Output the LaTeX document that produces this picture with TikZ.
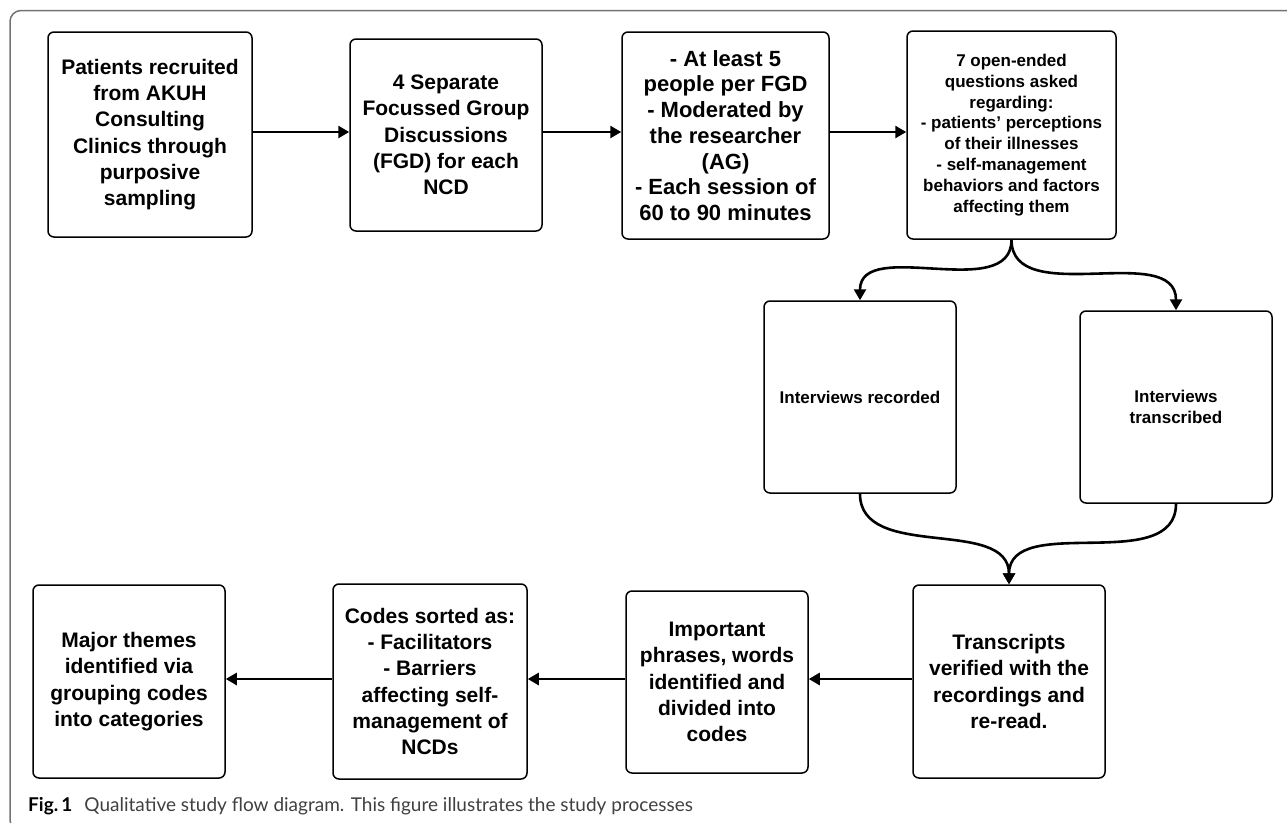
\documentclass[tikz,border=0pt]{standalone}
\usepackage{fontspec}
\setmainfont{Liberation Sans}
\newfontfamily\capfont{Lato}
\usetikzlibrary{arrows.meta}
\tikzset{
  box/.style={draw, line width=1.5pt, rounded corners=6pt, align=center, inner sep=2pt,
              font=\bfseries\fontsize{21}{26.3}\selectfont},
  widebox/.style={box, font=\bfseries\fontsize{22}{25.7}\selectfont},
  smallbox/.style={box, font=\bfseries\fontsize{17}{20.9}\selectfont},
  arr/.style={line width=2.6pt, -{Triangle[length=11pt,width=12pt]}},
  frame/.style={draw=black!55, line width=1.5pt, rounded corners=11pt}
}
\begin{document}
\begin{tikzpicture}[x=1pt,y=1pt]
\useasboundingbox (0,0) rectangle (1287,-822);
\begin{scope}
\clip (0,0) rectangle (1287,-822);
\path[frame] (10,-10.5) rectangle (1330,-831);
\end{scope}

\node[box, minimum width=204pt, minimum height=205pt] (b1) at (150,-134.5)
  {Patients recruited\\from AKUH\\Consulting\\Clinics through\\purposive\\sampling};
\node[box, minimum width=192pt, minimum height=192pt] (b2) at (446,-135)
  {4 Separate\\Focussed Group\\Discussions\\(FGD) for each\\NCD};
\node[widebox, minimum width=207pt, minimum height=207pt] (b3) at (725.5,-135.5)
  {- At least 5\\people per FGD\\- Moderated by\\the researcher\\(AG)\\- Each session of\\60 to 90 minutes};
\node[smallbox, minimum width=209pt, minimum height=208pt] (b4) at (1011.5,-135)
  {7 open-ended\\questions asked\\regarding:\\- patients' perceptions\\of their illnesses\\- self-management\\behaviors and factors\\affecting them};
\node[smallbox, minimum width=192pt, minimum height=192pt] (b5) at (860,-397)
  {Interviews recorded};
\node[smallbox, minimum width=192pt, minimum height=192pt] (b6) at (1176,-407)
  {Interviews\\transcribed};
\node[box, minimum width=192pt, minimum height=193pt] (b7) at (1009,-681.5)
  {Transcripts\\verified with the\\recordings and\\re-read.};
\node[box, minimum width=182pt, minimum height=182pt] (b8) at (717,-682)
  {Important\\phrases, words\\identified and\\divided into\\codes};
\node[box, minimum width=194pt, minimum height=195pt] (b9) at (430,-681.5)
  {Codes sorted as:\\- Facilitators\\- Barriers\\affecting self-\\management of\\NCDs};
\node[box, minimum width=192pt, minimum height=193pt] (b10) at (129,-681.5)
  {Major themes\\identified via\\grouping codes\\into categories};

\draw[arr] (b1.east |- 0,-132) -- (b2.west |- 0,-132);
\draw[arr] (b2.east |- 0,-132) -- (b3.west |- 0,-132);
\draw[arr] (b3.east |- 0,-132) -- (b4.west |- 0,-132);
\draw[arr] (b4.south) to[out=-90,in=90] (b5.north);
\draw[arr] (b4.south) to[out=-90,in=90] (b6.north);
\draw[arr] (b5.south) to[out=-90,in=90] (b7.north);
\draw[arr] (b6.south) to[out=-90,in=90] (b7.north);
\draw[arr] (b7.west |- 0,-679) -- (b8.east |- 0,-679);
\draw[arr] (b8.west |- 0,-679) -- (b9.east |- 0,-679);
\draw[arr] (b9.west |- 0,-679) -- (b10.east |- 0,-679);

\node[anchor=base west, inner sep=0pt, font=\capfont\fontsize{19}{22}\selectfont, text=black!75] (cap) at (28,-811)
  {\textcolor{black}{\bfseries Fig.\,1}\hspace{12pt}Qualitative study flow diagram. This figure illustrates the study processes};
\end{tikzpicture}
\end{document}
